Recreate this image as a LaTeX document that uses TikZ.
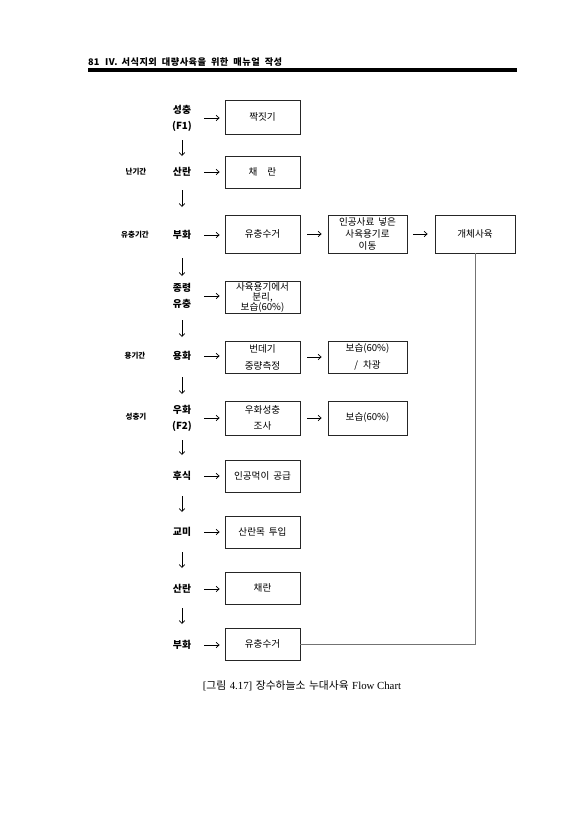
\documentclass[tikz,border=0pt]{standalone}
\usepackage{fontspec}
\setmainfont{Noto Sans CJK KR}
\newfontfamily\serifrm{Liberation Serif}
\usetikzlibrary{arrows.meta}
\begin{document}
\begin{tikzpicture}[x=1pt,y=-1pt,
  lab/.style={font=\fontsize{9.8}{16}\selectfont\bfseries, align=center, inner sep=0pt},
  side/.style={font=\fontsize{7.5}{9}\selectfont\bfseries, inner sep=0pt},
  box/.style={draw=black!85, line width=0.8pt, align=center, inner sep=0pt,
              font=\fontsize{9.6}{12}\selectfont},
  wA/.style={box, minimum width=75},
  wB/.style={box, minimum width=79},
  wC/.style={box, minimum width=80},
  arr/.style={line width=0.7pt, -{Straight Barb[length=3pt,width=5.5pt]}},
  link/.style={line width=0.8pt, draw=black!55},
  hdr/.style={anchor=west, inner sep=0pt, font=\fontsize{9.2}{10}\selectfont\bfseries\addfontfeature{LetterSpace=5}}
]
\useasboundingbox[fill=white] (0,0) rectangle (587,830);

% header
\node[hdr, font=\fontsize{9.2}{10}\selectfont\bfseries] (hnum) at (88,62) {81};
\node[hdr] (htitle) at (105,62)
  {IV.\hspace{4pt}서식지외\hspace{5pt}대량사육을\hspace{5pt}위한\hspace{5pt}매뉴얼\hspace{5pt}작성};
\coordinate (hl) at (88,70);
\coordinate (hr) at (517,70);
\draw[line width=3.5pt] (hl) -- (hr);

% side labels
\node[side] (s1) at (136,172) {난기간};
\node[side] (s2) at (135,235) {유충기간};
\node[side] (s3) at (135,356) {용기간};
\node[side] (s4) at (136,417) {성충기};

% stage labels
\node[lab] (L1) at (182,118) {성충\\(F1)};
\node[lab] (L2) at (182,172) {산란};
\node[lab] (L3) at (182,235) {부화};
\node[lab] (L4) at (182,296) {종령\\유충};
\node[lab] (L5) at (182,356) {용화};
\node[lab] (L6) at (182,418) {우화\\(F2)};
\node[lab] (L7) at (182,476) {후식};
\node[lab] (L8) at (182,532) {교미};
\node[lab] (L9) at (182,589) {산란};
\node[lab] (L10) at (182,645) {부화};

% boxes column 1
\node[wA, minimum height=34] (b1) at (262.5,117) {짝짓기};
\node[wA, minimum height=32] (b2) at (262.5,172) {채\hspace{10pt}란};
\node[wA, minimum height=38] (b3) at (262.5,234) {유충수거};
\node[wA, minimum height=32, font=\fontsize{9.6}{10}\selectfont] (b4) at (262.5,297) {사육용기에서\\분리,\\보습(60\%)};
\node[wA, minimum height=32, font=\fontsize{9.6}{17}\selectfont] (b5) at (262.5,357) {번데기\\중량측정};
\node[wA, minimum height=34, font=\fontsize{9.6}{16}\selectfont] (b6) at (262.5,418) {우화성충\\조사};
\node[wA, minimum height=32] (b7) at (262.5,476) {인공먹이\hspace{4pt}공급};
\node[wA, minimum height=32] (b8) at (262.5,532) {산란목\hspace{4pt}투입};
\node[wA, minimum height=32] (b9) at (262.5,588) {채란};
\node[wA, minimum height=32] (b10) at (262.5,644) {유충수거};

% boxes column 2
\node[wB, minimum height=38, font=\fontsize{9.6}{12}\selectfont] (c3) at (367.5,234) {인공사료\hspace{4pt}넣은\\사육용기로\\이동};
\node[wB, minimum height=32, font=\fontsize{9.6}{17}\selectfont] (c5) at (367.5,357) {보습(60\%)\\/\hspace{5pt}차광};
\node[wB, minimum height=34] (c6) at (367.5,418) {보습(60\%)};

% box column 3
\node[wC, minimum height=38] (d3) at (475,234) {개체사육};

% vertical arrows
\draw[arr, shorten <=22, shorten >=16] (L1.center) -- (L2.center);
\draw[arr, shorten <=18, shorten >=28] (L2.center) -- (L3.center);
\draw[arr, shorten <=23, shorten >=20] (L3.center) -- (L4.center);
\draw[arr, shorten <=24, shorten >=19] (L4.center) -- (L5.center);
\draw[arr, shorten <=21, shorten >=24] (L5.center) -- (L6.center);
\draw[arr, shorten <=22, shorten >=21] (L6.center) -- (L7.center);
\draw[arr, shorten <=20, shorten >=20] (L7.center) -- (L8.center);
\draw[arr, shorten <=20, shorten >=21] (L8.center) -- (L9.center);
\draw[arr, shorten <=19, shorten >=21] (L9.center) -- (L10.center);

% horizontal arrows label -> box
\foreach \i in {1,...,10}{
  \draw[arr, shorten <=22, shorten >=5] (L\i.center) -- (L\i.center -| b\i.west);
}

% box -> box arrows
\draw[arr, shorten <=7, shorten >=6] (b3.east) -- (c3.west);
\draw[arr, shorten <=6, shorten >=7] (c3.east) -- (d3.west);
\draw[arr, shorten <=7, shorten >=6] (b5.east) -- (c5.west);
\draw[arr, shorten <=7, shorten >=6] (b6.east) -- (c6.west);

% return line
\draw[link] (b10.east) -| (d3.south);

% caption
\node[inner sep=0pt, font=\fontsize{10.8}{12}\selectfont] (cap) at (302,686)
  {{\serifrm [}그림\hspace{3.5pt}{\serifrm 4.17]}\hspace{3.5pt}장수하늘소\hspace{3.5pt}누대사육\hspace{3.5pt}{\serifrm Flow Chart}};
\end{tikzpicture}
\end{document}
